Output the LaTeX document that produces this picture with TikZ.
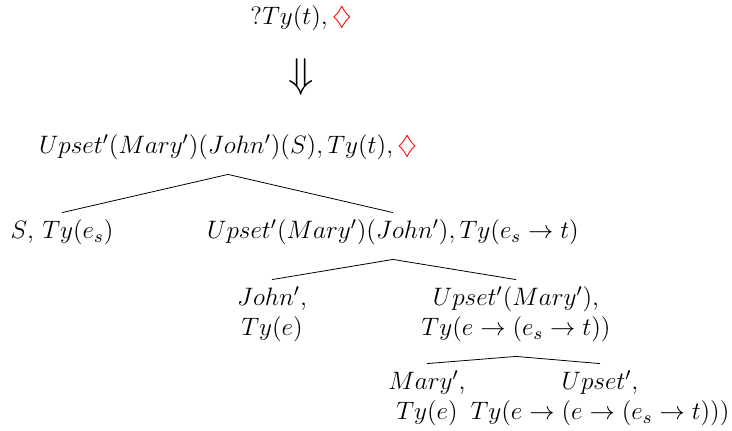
\documentclass[tikz,border=0pt]{standalone}
\usepackage{fix-cm}
\usepackage{xcolor}
\usepackage{amsmath,amssymb}
\usetikzlibrary{positioning}

\begin{document}
\begin{tikzpicture}[x=0.5pt, y=-0.5pt, every node/.style={font=\fontsize{12.6}{15}\selectfont},
  tnode/.style={align=center, inner sep=5.2pt},
  branch/.style={transform canvas={yshift=-2pt}}]
  \useasboundingbox (0,0) rectangle (732,430);
  \node (goal) at (301,18) {$?Ty(t), \textcolor{red}{\diamondsuit}$};
  \node[below=7pt of goal, font=\huge] (step) {$\Downarrow$};
  % tree
  \node[tnode] (root) at (228,147) {$Upset'(Mary')(John')(S), Ty(t), \textcolor{red}{\diamondsuit}$};
  \node[tnode] (sit) at (62,232) {$S$, $Ty(e_s)$};
  \node[tnode] (pred) at (393,232) {$Upset'(Mary')(John'), Ty(e_s \rightarrow t)$};
  \node[tnode] (subj) at (272,314) {$John'$,\\ $Ty(e)$};
  \node[tnode] (vp) at (516,314) {$Upset'(Mary')$,\\ $Ty(e \rightarrow (e_s \rightarrow t))$};
  \node[tnode] (obj) at (427,398) {$Mary'$,\\ $Ty(e)$};
  \node[tnode] (verb) at (600,398) {$Upset'$,\\ $Ty(e \rightarrow (e \rightarrow (e_s \rightarrow t)))$};
  \draw[branch] (root.south) -- (sit.north);
  \draw[branch] (root.south) -- (pred.north);
  \draw[branch] (pred.south) -- (subj.north);
  \draw[branch] (pred.south) -- (vp.north);
  \draw[branch] (vp.south) -- (obj.north);
  \draw[branch] (vp.south) -- (verb.north);
\end{tikzpicture}
\end{document}
